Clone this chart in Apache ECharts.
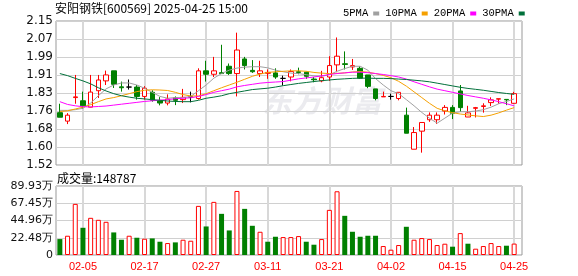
<!DOCTYPE html>
<html><head><meta charset="utf-8">
<script src="https://cdn.jsdelivr.net/npm/echarts@6/dist/echarts.min.js"></script>
<style>html,body{margin:0;padding:0;background:#fff}#c{width:578px;height:276px}</style>
</head><body><div id="c"></div>
<script>
const dates = ['01-23','01-24','01-27',
 '02-05','02-06','02-07','02-10','02-11','02-12','02-13','02-14','02-17','02-18','02-19','02-20','02-21','02-24','02-25','02-26','02-27','02-28',
 '03-03','03-04','03-05','03-06','03-07','03-10','03-11','03-12','03-13','03-14','03-17','03-18','03-19','03-20','03-21','03-24','03-25','03-26','03-27','03-28','03-31',
 '04-01','04-02','04-03','04-07','04-08','04-09','04-10','04-11','04-14','04-15','04-16','04-17','04-18','04-21','04-22','04-23','04-24','04-25'];
const labelDates = ['02-05','02-17','02-27','03-11','03-21','04-02','04-15','04-25'];

const opens  = [1.749,1.712,1.815,1.801,1.773,1.845,1.888,1.932,1.862,1.861, 1.861,1.820,1.838,1.801,1.791,1.814,1.806,1.818,1.811,1.932, 1.917,1.924,1.952,1.920,1.984,1.934,1.920,1.921,1.923,1.899, 1.905,1.928,1.926,1.896,1.888,1.905,1.958,1.963,1.949,1.943, 1.914,1.853,1.818,1.820,1.811,1.738,1.589,1.668,1.718,1.718, 1.756,1.772,1.844,1.730,1.768,1.776,1.793,1.808,1.807,1.790];
const closes = [1.729,1.738,1.818,1.779,1.839,1.892,1.914,1.873,1.858,1.861, 1.820,1.856,1.803,1.791,1.809,1.803,1.816,1.818,1.932,1.917, 1.932,1.920,1.920,2.023,1.955,1.928,1.932,1.925,1.905,1.899, 1.929,1.925,1.908,1.893,1.902,1.955,1.996,1.960,1.955,1.900, 1.864,1.811,1.820,1.820,1.838,1.659,1.662,1.706,1.738,1.738, 1.772,1.746,1.771,1.748,1.771,1.779,1.805,1.810,1.805,1.832];
const lows   = [1.729,1.699,1.788,1.765,1.772,1.813,1.870,1.857,1.841,1.850, 1.806,1.806,1.797,1.781,1.781,1.782,1.791,1.794,1.806,1.885, 1.905,1.919,1.914,1.820,1.938,1.923,1.905,1.897,1.897,1.868, 1.886,1.917,1.897,1.882,1.882,1.888,1.926,1.938,1.936,1.897, 1.856,1.803,1.818,1.806,1.803,1.659,1.589,1.574,1.709,1.700, 1.741,1.721,1.753,1.730,1.728,1.749,1.778,1.788,1.782,1.788];
const highs  = [1.788,1.747,1.914,1.841,1.914,1.914,1.933,1.932,1.885,1.894, 1.870,1.865,1.847,1.817,1.829,1.820,1.853,1.841,1.943,1.976, 1.993,2.046,1.964,2.099,1.993,1.979,1.976,1.938,1.943,1.911, 1.938,1.946,1.928,1.905,1.932,1.996,2.078,2.017,1.984,1.952, 1.914,1.853,1.841,1.832,1.838,1.771,1.686,1.706,1.750,1.750, 1.782,1.782,1.870,1.779,1.774,1.790,1.816,1.810,1.807,1.840];

const ma5  = [1.759,1.759,1.762,1.768,1.791,1.823,1.853,1.870,1.879,1.879, 1.870,1.856,1.838,1.820,1.812,1.815,1.815,1.820,1.845,1.870, 1.900,1.920,1.935,1.944,1.948,1.950,1.950,1.945,1.935,1.928, 1.922,1.920,1.915,1.910,1.908,1.915,1.930,1.942,1.952,1.952, 1.935,1.898,1.870,1.845,1.832,1.806,1.779,1.750,1.725,1.703, 1.725,1.747,1.753,1.753,1.756,1.762,1.773,1.788,1.798,1.809];
const ma10 = [1.754,1.757,1.765,1.773,1.784,1.797,1.809,1.815,1.823,1.832, 1.841,1.847,1.849,1.848,1.846,1.838,1.828,1.822,1.822,1.832, 1.845,1.858,1.870,1.882,1.895,1.908,1.918,1.925,1.928,1.930, 1.932,1.932,1.930,1.925,1.922,1.920,1.921,1.923,1.927,1.929, 1.926,1.920,1.912,1.902,1.886,1.865,1.840,1.815,1.790,1.768, 1.757,1.749,1.743,1.739,1.735,1.732,1.738,1.748,1.760,1.771];
const ma20 = [1.797,1.785,1.779,1.775,1.774,1.776,1.778,1.782,1.786,1.790, 1.794,1.798,1.801,1.804,1.806,1.810,1.812,1.814,1.820,1.828, 1.838,1.845,1.852,1.862,1.868,1.873,1.878,1.881,1.883,1.885, 1.891,1.897,1.901,1.905,1.910,1.916,1.920,1.923,1.926,1.926, 1.924,1.920,1.916,1.911,1.905,1.896,1.884,1.873,1.862,1.852, 1.845,1.838,1.831,1.824,1.818,1.812,1.805,1.797,1.788,1.779];
const ma30 = [1.920,1.911,1.899,1.888,1.875,1.858,1.844,1.832,1.823,1.817, 1.812,1.809,1.806,1.803,1.800,1.798,1.797,1.797,1.803,1.812, 1.817,1.823,1.832,1.838,1.844,1.850,1.853,1.856,1.861,1.867, 1.872,1.877,1.881,1.885,1.889,1.892,1.895,1.897,1.899,1.900, 1.900,1.899,1.899,1.898,1.896,1.894,1.891,1.888,1.884,1.878, 1.872,1.866,1.860,1.855,1.851,1.847,1.842,1.837,1.833,1.829];

const volumes = [207600,250900,666200,354700,484500,458600,432600,294200,199000,250900, 225000,212000,216300,173000,155700,164400,199000,186000,640200,372000, 692200,536400,320100,834900,601300,380700,302800,173000,237900,233600, 233600,246600,173000,134100,207600,588300,830600,510500,302800,237900, 250900,250900,116800,69200,129800,367700,199000,220600,207600,129800, 147100,108200,285500,147100,82200,116800,155700,116800,121100,148787];
const volUp = [0,1,1,0,1,1,1,0,0,1, 0,1,0,0,1,0,1,1,1,0, 1,0,0,1,0,0,1,0,0,1, 1,1,0,0,1,1,1,0,0,0, 0,0,1,1,1,0,1,1,1,1, 1,0,1,0,1,1,1,1,0,1];

const priceTicks = ['1.52','1.60','1.68','1.76','1.83','1.91','1.99','2.07','2.15'];
const volTicks = ['0','22.48万','44.96万','67.45万','89.93万'];
const priceMin = 1.52, priceMax = 2.15, volMax = 899300;
const titleText = '安阳钢铁[600569] 2025-04-25 15:00';

const chart = echarts.init(document.getElementById('c'), null, {renderer:'canvas'});
const showLabel = (i) => labelDates.indexOf(dates[i]) >= 0;
const vLines = {show:true, interval:showLabel, alignWithLabel:true, lineStyle:{color:'#d8d8d8', width:2}};
const axisFont = {fontFamily:'DejaVu Sans', fontSize:12, color:'#111'};
const maColors = ['#a0a0a0','#f5a000','#ff00ff','#00703a'];
const maNames = ['5PMA','10PMA','20PMA','30PMA'];
const maData = [ma5, ma10, ma20, ma30];

const option = {
  animation:false,
  legend:{data:maNames, left:338, top:3, align:'right', icon:'rect', itemWidth:6, itemHeight:4, itemGap:6, selectedMode:false,
    textStyle:{fontFamily:'Liberation Mono', fontSize:10.5, color:'#000'}},
  grid:[
    {left:56, top:21, width:466, height:144, show:true, borderColor:'#999', borderWidth:1},
    {left:56, top:21, width:462, height:144},
    {left:56, top:186, width:466, height:69, show:true, borderColor:'#999', borderWidth:1},
    {left:56, top:186, width:462, height:69}
  ],
  xAxis:[
    {gridIndex:0, type:'value', min:0, max:1, show:false},
    {gridIndex:1, type:'category', data:dates, boundaryGap:true, axisLine:{show:false}, axisTick:{show:false}, axisLabel:{show:false}, splitLine:vLines},
    {gridIndex:2, type:'value', min:0, max:1, show:false},
    {gridIndex:3, type:'category', data:dates, boundaryGap:true, axisLine:{show:false}, axisTick:{show:false},
      axisLabel:{show:true, interval:showLabel, color:'#f00', fontFamily:'Liberation Sans', fontSize:11, margin:6}, splitLine:vLines}
  ],
  yAxis:[
    {gridIndex:0, type:'value', min:0, max:8, interval:1, axisLine:{show:false}, axisTick:{show:false},
      axisLabel:Object.assign({formatter:v=>priceTicks[Math.round(v)], margin:3}, axisFont), splitLine:{lineStyle:{color:'#d0d0d0'}}},
    {gridIndex:1, type:'value', min:priceMin, max:priceMax, show:false, splitLine:{show:false}},
    {gridIndex:2, type:'value', min:0, max:4, interval:1, axisLine:{show:false}, axisTick:{show:false},
      axisLabel:Object.assign({formatter:v=>volTicks[Math.round(v)], margin:3}, axisFont, {fontSize:11}), splitLine:{lineStyle:{color:'#d0d0d0'}}},
    {gridIndex:3, type:'value', min:0, max:volMax, show:false, splitLine:{show:false}}
  ],
  graphic:[
    {type:'text', left:262, top:86, z:-10, silent:true, style:{text:'东方财富', font:'italic bold 30px "Noto Sans CJK SC"', fill:'#ebebef'}},
    {type:'text', left:55, top:2, style:{text:titleText, font:'12px "Noto Sans CJK SC"', fill:'#000'}},
    {type:'text', left:57, top:172, style:{text:'成交量:' + volumes[volumes.length-1], font:'12px "Noto Sans CJK SC"', fill:'#000'}}
  ],
  series:[
    {type:'candlestick', xAxisIndex:1, yAxisIndex:1, barWidth:5, z:3,
      data: dates.map((d,i)=>[opens[i], closes[i], lows[i], highs[i]]),
      itemStyle:{color:'#fff', color0:'#008000', borderColor:'#f00', borderColor0:'#008000', borderColorDoji:'#000', borderWidth:1}},
    ...maNames.map((n,k)=>({type:'line', name:n, xAxisIndex:1, yAxisIndex:1, data:maData[k], symbol:'none', showSymbol:false,
      color:maColors[k], itemStyle:{color:maColors[k]}, lineStyle:{width:1, color:maColors[k]}, z:4})),
    {type:'bar', xAxisIndex:3, yAxisIndex:3, barWidth:5, z:3,
      data: volumes.map((v,i)=>({value:v, itemStyle: volUp[i] ? {color:'#fff', borderColor:'#f00', borderWidth:1} : {color:'#008000'}}))}
  ]
};
chart.setOption(option);
</script></body></html>
